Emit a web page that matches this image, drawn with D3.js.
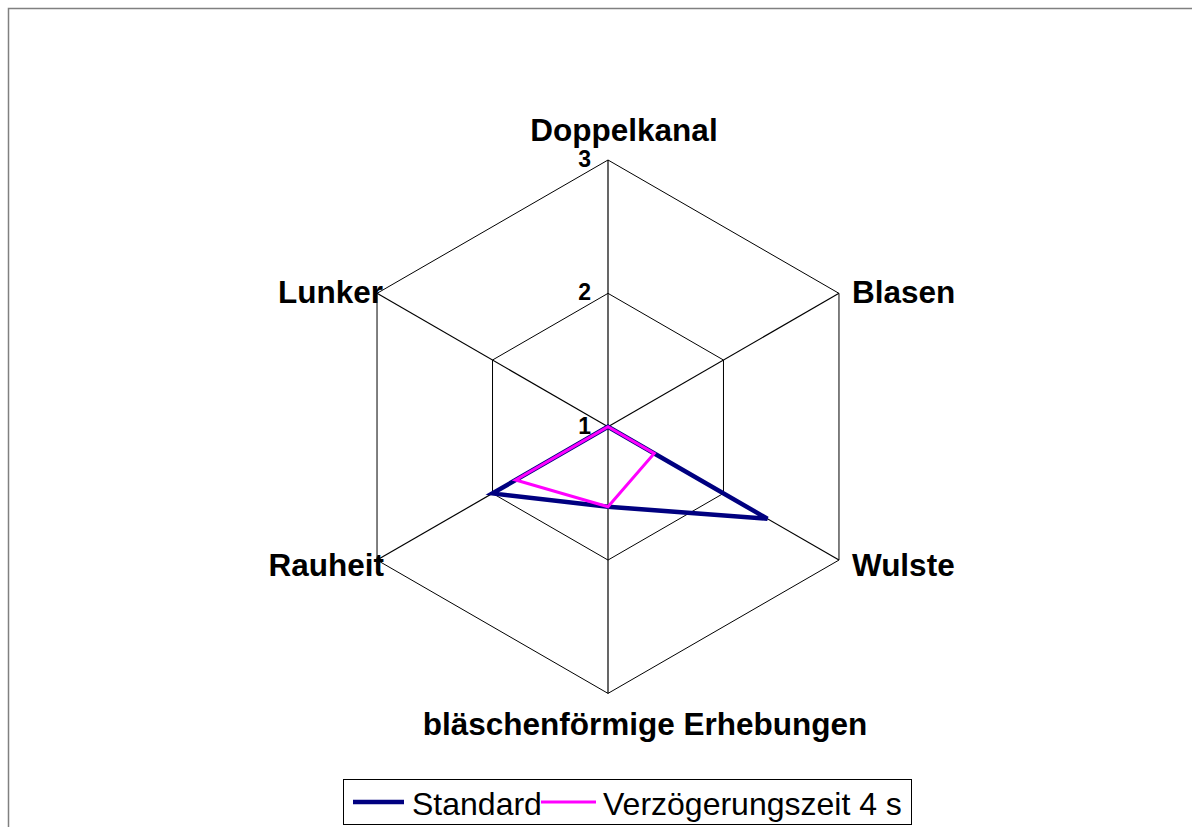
<!DOCTYPE html>
<html>
<head>
<meta charset="utf-8">
<script src="https://cdn.jsdelivr.net/npm/d3@7"></script>
<style>
  html, body { margin: 0; padding: 0; background: #fff; }
  svg { display: block; }
  text { font-family: "Liberation Sans", Arial, sans-serif; }
</style>
</head>
<body>
<svg id="chart" width="1192" height="827"></svg>
<script>
// Defect categories (clockwise from top)
const categories = ["Doppelkanal", "Blasen", "Wulste", "bläschenförmige Erhebungen", "Rauheit", "Lunker"];
// Rating per category for each process variant
const standardValues = [1, 1, 2.38, 1.6, 2.0, 1];
const verzoegerungValues = [1, 1, 1.4, 1.6, 1.8, 1];
const seriesNames = ["Standard", "Verzögerungszeit 4 s"];
const seriesColors = ["#000080", "#FF00FF"];
const tickValues = [1, 2, 3];

const svg = d3.select("#chart");
const W = 1192, H = 827;

// Outer frame of the chart area
svg.append("rect")
  .attr("x", 8.5).attr("y", 8.5)
  .attr("width", W + 20).attr("height", H + 20)
  .attr("fill", "none").attr("stroke", "#808080").attr("stroke-width", 1.5);

const cx = 608, cy = 426.7;
const r = d3.scaleLinear().domain([1, 3]).range([0, 266.7]);
const angle = d3.scalePoint().domain(categories).range([0, 2 * Math.PI * (categories.length - 1) / categories.length]);

function pt(cat, v) {
  const a = angle(cat) - Math.PI / 2;
  return [cx + r(v) * Math.cos(a), cy + r(v) * Math.sin(a)];
}

const g = svg.append("g");

// Hexagonal grid rings
tickValues.filter(t => t > 1).forEach(t => {
  const pts = categories.map(c => pt(c, t));
  g.append("path")
    .attr("d", d3.line()(pts) + "Z")
    .attr("fill", "none").attr("stroke", "#000").attr("stroke-width", 1);
});

// Spokes
categories.forEach(c => {
  const [x, y] = pt(c, 3);
  g.append("line")
    .attr("x1", cx).attr("y1", cy).attr("x2", x).attr("y2", y)
    .attr("stroke", "#000").attr("stroke-width", 1.2);
});

// Tick labels along the top spoke
tickValues.forEach(t => {
  const [x, y] = pt(categories[0], t);
  g.append("text")
    .attr("x", x - 17).attr("y", y + 7)
    .attr("text-anchor", "end")
    .attr("font-size", 23).attr("font-weight", "bold")
    .text(t);
});

// Category labels
const labelOffsets = {
  "Doppelkanal": { dx: 16, dy: -19, anchor: "middle" },
  "Blasen": { dx: 13, dy: 10, anchor: "start" },
  "Wulste": { dx: 13, dy: 16, anchor: "start" },
  "bläschenförmige Erhebungen": { dx: 37, dy: 42, anchor: "middle" },
  "Rauheit": { dx: 7, dy: 16, anchor: "end" },
  "Lunker": { dx: 6, dy: 10, anchor: "end" }
};
categories.forEach(c => {
  const [x, y] = pt(c, 3);
  const o = labelOffsets[c];
  g.append("text")
    .attr("x", x + o.dx).attr("y", y + o.dy)
    .attr("text-anchor", o.anchor)
    .attr("font-size", 31.5).attr("font-weight", "bold")
    .text(c);
});

// Series polygons
const series = [standardValues, verzoegerungValues];
const widths = [4.5, 3];
series.forEach((vals, i) => {
  const pts = categories.map((c, j) => pt(c, vals[j]));
  g.append("path")
    .attr("d", d3.line()(pts) + "Z")
    .attr("fill", "none")
    .attr("stroke", seriesColors[i])
    .attr("stroke-width", widths[i])
    .attr("stroke-linejoin", "miter");
});

// Legend
const lg = svg.append("g");
lg.append("rect")
  .attr("x", 343.5).attr("y", 779.5).attr("width", 568).attr("height", 45)
  .attr("fill", "#fff").attr("stroke", "#000").attr("stroke-width", 1);
const legendItems = [
  { x1: 353, x2: 404, tx: 412 },
  { x1: 541, x2: 596, tx: 603 }
];
seriesNames.forEach((name, i) => {
  const it = legendItems[i];
  lg.append("line")
    .attr("x1", it.x1).attr("x2", it.x2).attr("y1", 802).attr("y2", 802)
    .attr("stroke", seriesColors[i]).attr("stroke-width", i === 0 ? 4.5 : 3);
  lg.append("text")
    .attr("x", it.tx).attr("y", 815)
    .attr("font-size", 32)
    .text(name);
});
</script>
</body>
</html>
